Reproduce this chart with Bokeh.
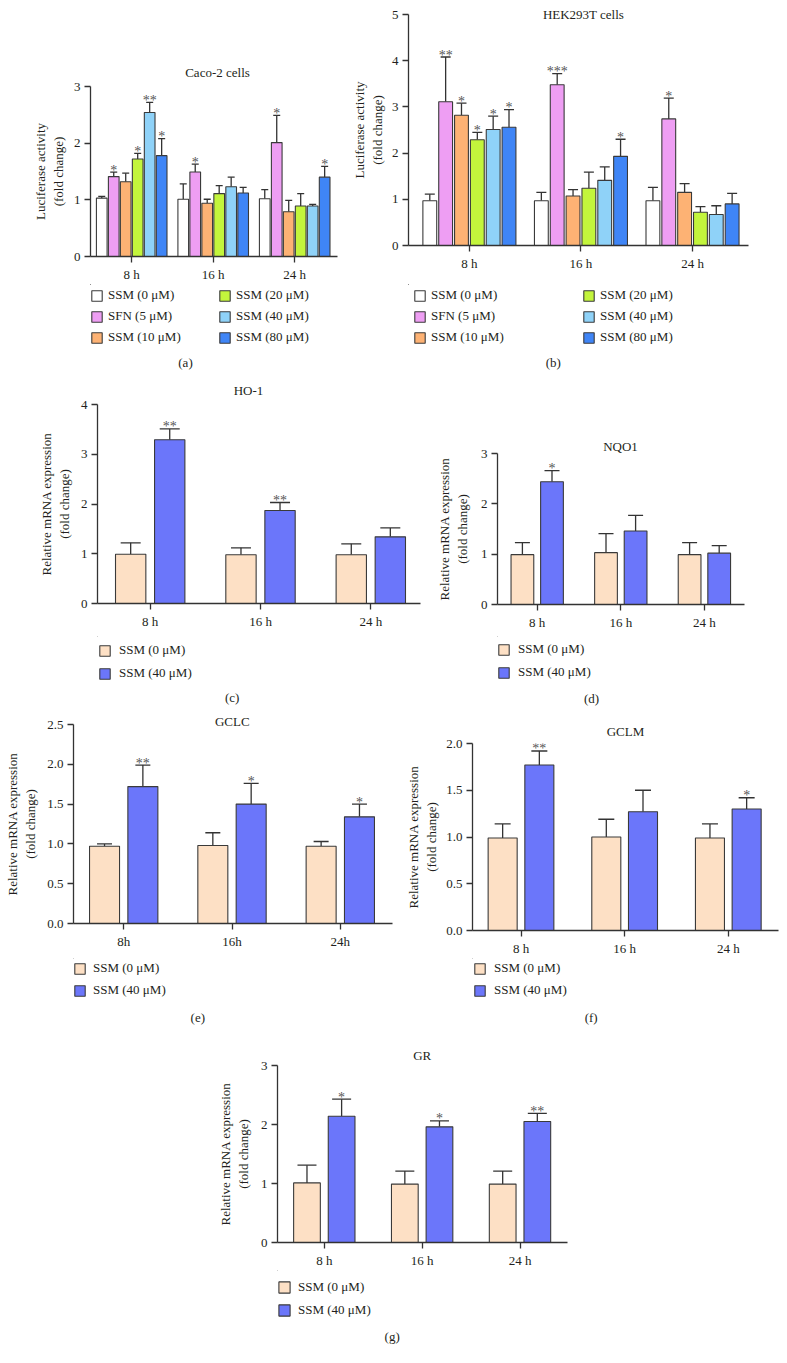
from bokeh.plotting import figure
from bokeh.layouts import column, row
from bokeh.models import (Range1d, FixedTicker, Whisker, TeeHead, Legend, LegendItem,
                          Label, Title, ColumnDataSource, NumeralTickFormatter)
from bokeh.embed import file_html
from bokeh.resources import INLINE
from bokeh.core.properties import value

# ---------------- data ----------------
TIMES = ["8 h", "16 h", "24 h"]
TIMES_GCLC = ["8h", "16h", "24h"]

LUC_SERIES = ["SSM (0 μM)", "SFN (5 μM)", "SSM (10 μM)", "SSM (20 μM)", "SSM (40 μM)", "SSM (80 μM)"]
LUC_COLORS = ["#ffffff", "#ee9ef3", "#fdb274", "#c3f53c", "#8fd2f8", "#3f85f6"]

CACO2_MEAN = [[1.03, 1.01, 1.02], [1.41, 1.49, 2.01], [1.32, 0.94, 0.79],
              [1.72, 1.11, 0.89], [2.54, 1.23, 0.89], [1.78, 1.12, 1.40]]
CACO2_SEM = [[0.03, 0.27, 0.16], [0.08, 0.14, 0.48], [0.15, 0.07, 0.20],
             [0.10, 0.14, 0.22], [0.18, 0.17, 0.03], [0.30, 0.10, 0.19]]
CACO2_SIG = [["", "", ""], ["*", "*", "*"], ["", "", ""],
             ["*", "", ""], ["**", "", ""], ["*", "", "*"]]

HEK_MEAN = [[0.97, 0.97, 0.97], [3.11, 3.48, 2.74], [2.82, 1.07, 1.15],
            [2.29, 1.24, 0.72], [2.51, 1.41, 0.67], [2.56, 1.93, 0.90]]
HEK_SEM = [[0.14, 0.18, 0.29], [0.97, 0.24, 0.45], [0.26, 0.14, 0.19],
           [0.16, 0.35, 0.12], [0.29, 0.29, 0.19], [0.38, 0.37, 0.23]]
HEK_SIG = [["", "", ""], ["**", "***", "*"], ["*", "", ""],
           ["*", "", ""], ["*", "", ""], ["*", "*", ""]]

MRNA_SERIES = ["SSM (0 μM)", "SSM (40 μM)"]
MRNA_COLORS = ["#fde0c5", "#6b76fa"]

HO1_MEAN = [[0.99, 0.98, 0.98], [3.29, 1.87, 1.34]]
HO1_SEM = [[0.23, 0.14, 0.22], [0.22, 0.16, 0.18]]
HO1_SIG = [["", "", ""], ["**", "**", ""]]

NQO1_MEAN = [[0.99, 1.03, 0.99], [2.44, 1.46, 1.02]]
NQO1_SEM = [[0.24, 0.38, 0.24], [0.22, 0.31, 0.15]]
NQO1_SIG = [["", "", ""], ["*", "", ""]]

GCLC_MEAN = [[0.97, 0.98, 0.97], [1.72, 1.50, 1.34]]
GCLC_SEM = [[0.03, 0.16, 0.06], [0.27, 0.26, 0.16]]
GCLC_SIG = [["", "", ""], ["**", "*", "*"]]

GCLM_MEAN = [[0.99, 1.00, 0.99], [1.77, 1.27, 1.30]]
GCLM_SEM = [[0.15, 0.19, 0.15], [0.15, 0.23, 0.12]]
GCLM_SIG = [["", "", ""], ["**", "", "*"]]

GR_MEAN = [[1.01, 0.99, 0.99], [2.14, 1.96, 2.05]]
GR_SEM = [[0.30, 0.22, 0.22], [0.29, 0.10, 0.14]]
GR_SIG = [["", "", ""], ["*", "*", "**"]]

# ---------------- style ----------------
FONT = "Liberation Serif"
TXT = "#231f20"
AX = "#333333"
EDGE = "#3a3a3a"
ITEM_H = 16


def plot_fig(fig, frame, t0, s, ymax, ystep, times, series, colors, means, sems, sigs,
             offsets, width, cap, title, title_off, title_standoff, ylabel, ylab_standoff,
             yfmt=None):
    fx, fy, fw, fh = fig
    L, T, R, B = frame
    p = figure(width=fw, height=fh, output_backend="svg", toolbar_location=None, title=None,
               x_range=Range1d((L - t0) / s, (R - t0) / s), y_range=Range1d(0, ymax),
               min_border_left=L - fx, min_border_right=fx + fw - R,
               min_border_top=T - fy, min_border_bottom=fy + fh - B)
    p.outline_line_color = None
    p.xgrid.visible = False
    p.ygrid.visible = False

    for i, name in enumerate(series):
        xs = [g + offsets[i] for g in range(len(times))]
        ups = [m + e for m, e in zip(means[i], sems[i])]
        src = ColumnDataSource(dict(x=xs, top=means[i], up=ups, sig=sigs[i]))
        p.add_layout(Whisker(source=src, base="x", lower="top", upper="up", dimension="height",
                             line_color=AX, line_width=1.3, lower_head=None,
                             upper_head=TeeHead(size=cap, line_color=AX, line_width=1.3)))
        p.vbar(x="x", top="top", bottom=0, width=width, source=src,
               fill_color=colors[i], line_color=EDGE, line_width=1.1)
        p.text(x="x", y="up", text="sig", source=src, text_align="center",
               text_baseline="alphabetic", y_offset=-2, text_font=value(FONT),
               text_font_size="14px", text_color="#555555")

    for ax in (p.xaxis[0], p.yaxis[0]):
        ax.axis_line_color = AX
        ax.axis_line_width = 1.3
        ax.major_tick_line_color = AX
        ax.major_tick_line_width = 1.3
        ax.major_tick_out = 6
        ax.major_tick_in = 0
        ax.minor_tick_line_color = None
        ax.major_label_text_font = FONT
        ax.major_label_text_font_size = "13px"
        ax.major_label_text_color = TXT
        ax.major_label_standoff = 4
    p.xaxis.ticker = FixedTicker(ticks=list(range(len(times))))
    p.xaxis.major_label_overrides = {i: t for i, t in enumerate(times)}
    n = int(round(ymax / ystep))
    p.yaxis.ticker = FixedTicker(ticks=[k * ystep for k in range(n + 1)])
    if yfmt:
        p.yaxis.formatter = NumeralTickFormatter(format=yfmt)
    p.yaxis.axis_label = ylabel
    p.yaxis.axis_label_text_font = FONT
    p.yaxis.axis_label_text_font_style = "normal"
    p.yaxis.axis_label_text_font_size = "13px"
    p.yaxis.axis_label_text_color = TXT
    p.yaxis.axis_label_standoff = ylab_standoff

    p.add_layout(Title(text=title, align="left", offset=title_off, standoff=title_standoff,
                       text_font=FONT, text_font_size="13px", text_font_style="normal",
                       text_color=TXT, vertical_align="bottom"), "above")
    return p


def legend_fig(fig, frame, top, height, series, colors, cols, row1, pitch, glyph, standoff,
               caption, caption_px):
    fx, fy, fw, fh = fig
    L, T, R, B = frame
    bottom = top + height
    p = figure(width=fw, height=height, output_backend="svg", toolbar_location=None, title=None,
               x_range=Range1d(L, R), y_range=Range1d(bottom, top),
               x_axis_location=None, y_axis_location=None,
               min_border_left=L - fx, min_border_right=fx + fw - R,
               min_border_top=0, min_border_bottom=0)
    p.outline_line_color = None
    p.xgrid.visible = False
    p.ygrid.visible = False
    rs = [p.vbar(x=[L - 500], top=[top], bottom=[top], width=1, fill_color=c,
                 line_color=EDGE, line_width=1.1) for c in colors]
    spacing = int(round(pitch - ITEM_H))
    for left_px, idx in cols:
        bottom_px = row1 + (len(idx) - 1) * (ITEM_H + spacing) + ITEM_H / 2
        items = [LegendItem(label=series[k], renderers=[rs[k]]) for k in idx]
        lg = Legend(items=items, location=(int(round(left_px - L)), int(round(bottom - bottom_px))),
                    orientation="vertical", glyph_width=glyph, glyph_height=glyph,
                    label_height=ITEM_H, label_standoff=standoff,
                    spacing=spacing, padding=0, margin=0,
                    border_line_alpha=0, background_fill_alpha=0,
                    label_text_font=FONT, label_text_font_size="13px",
                    label_text_color=TXT)
        p.add_layout(lg, "center")
    p.add_layout(Label(x=caption_px[0], y=caption_px[1], text=caption, text_font=FONT,
                       text_font_size="13px", text_color=TXT, text_align="center",
                       text_baseline="middle"))
    return p


LUC_OFF_A = [(i - 2.5) * 0.147 for i in range(6)]
LUC_OFF_B = [(i - 2.5) * 0.142 for i in range(6)]
TWO_OFF = [-0.177, 0.177]
LUC_LABEL = "Luciferase activity\n(fold change)"
MRNA_LABEL = "Relative mRNA expression\n(fold change)"

FA, RA = (0, 0, 348, 284), (90, 86, 337, 256)
pa = plot_fig(FA, RA, 131.2, 81.5, 3, 1, TIMES, LUC_SERIES,
              LUC_COLORS, CACO2_MEAN, CACO2_SEM, CACO2_SIG, LUC_OFF_A, 0.131, 7,
              "Caco-2 cells", 94.7, 13.6, LUC_LABEL, 5)
la = legend_fig(FA, RA, 284, 91, LUC_SERIES, LUC_COLORS, [(90, [0, 1, 2]), (218, [3, 4, 5])],
                295.5, 21, 13, 5, "(a)", (185, 362))
FB, RB = (348, 0, 431, 284), (403, 14, 748, 245)
pb = plot_fig(FB, RB, 464.8, 113.2, 5, 1, TIMES, LUC_SERIES,
              LUC_COLORS, HEK_MEAN, HEK_SEM, HEK_SIG, LUC_OFF_B, 0.124, 10,
              "HEK293T cells", 134.4, -15.4, LUC_LABEL, 4)
lb = legend_fig(FB, RB, 284, 91, LUC_SERIES, LUC_COLORS, [(408, [0, 1, 2]), (577, [3, 4, 5])],
                295.5, 21, 13, 5, "(b)", (550, 362))

FC, RC = (0, 375, 432, 261), (97, 400, 420, 603)
pc = plot_fig(FC, RC, 149.7, 110.3, 4, 1, TIMES, MRNA_SERIES,
              MRNA_COLORS, HO1_MEAN, HO1_SEM, HO1_SIG, TWO_OFF, 0.275, 20,
              "HO-1", 136.2, 12.2, MRNA_LABEL, 6)
lc = legend_fig(FC, RC, 636, 74, MRNA_SERIES, MRNA_COLORS, [(98, [0, 1])],
                649.7, 22.6, 13, 8, "(c)", (231.7, 696.7))
FD, RD = (432, 375, 347, 261), (497, 453, 744, 604)
pd_ = plot_fig(FD, RD, 536.7, 83.6, 3, 1, TIMES, MRNA_SERIES,
               MRNA_COLORS, NQO1_MEAN, NQO1_SEM, NQO1_SIG, TWO_OFF, 0.272, 15,
               "NQO1", 105.7, -1.8, MRNA_LABEL, 8)
ld = legend_fig(FD, RD, 636, 74, MRNA_SERIES, MRNA_COLORS, [(497, [0, 1])],
                649.2, 22.8, 13, 8, "(d)", (591, 697.7))

FE, RE = (0, 710, 400, 248), (73, 724, 392, 923)
pe = plot_fig(FE, RE, 123.2, 108.3, 2.5, 0.5, TIMES_GCLC,
              MRNA_SERIES, MRNA_COLORS, GCLC_MEAN, GCLC_SEM, GCLC_SIG, TWO_OFF, 0.277, 15,
              "GCLC", 141.4, -8.4, MRNA_LABEL, 6, yfmt="0.0")
le = legend_fig(FE, RE, 958, 70, MRNA_SERIES, MRNA_COLORS, [(73, [0, 1])],
                968.3, 22.5, 13, 7, "(e)", (197.3, 1016.7))
FF, RF = (400, 710, 379, 248), (472, 743, 778, 931)
pf = plot_fig(FF, RF, 520.5, 103.65, 2.0, 0.5, TIMES,
              MRNA_SERIES, MRNA_COLORS, GCLM_MEAN, GCLM_SEM, GCLM_SIG, TWO_OFF, 0.28, 16,
              "GCLM", 134.2, 8.2, MRNA_LABEL, 4, yfmt="0.0")
lf = legend_fig(FF, RF, 958, 70, MRNA_SERIES, MRNA_COLORS, [(473, [0, 1])],
                968.3, 22.4, 13, 8, "(f)", (590.7, 1016.7))

FG, RG = (0, 1028, 779, 242), (277, 1065, 567, 1242)
pg = plot_fig(FG, RG, 323.8, 97.85, 3, 1, TIMES,
              MRNA_SERIES, MRNA_COLORS, GR_MEAN, GR_SEM, GR_SIG, TWO_OFF, 0.273, 19,
              "GR", 135.7, 4.2, MRNA_LABEL, 7)
lg_ = legend_fig(FG, RG, 1270, 78, MRNA_SERIES, MRNA_COLORS, [(277, [0, 1])],
                 1287, 22.7, 14, 7, "(g)", (391.7, 1336))

layout = column(
    row(column(pa, la), column(pb, lb)),
    row(column(pc, lc), column(pd_, ld)),
    row(column(pe, le), column(pf, lf)),
    column(pg, lg_),
)
open("out.html", "w").write(file_html(layout, INLINE))
